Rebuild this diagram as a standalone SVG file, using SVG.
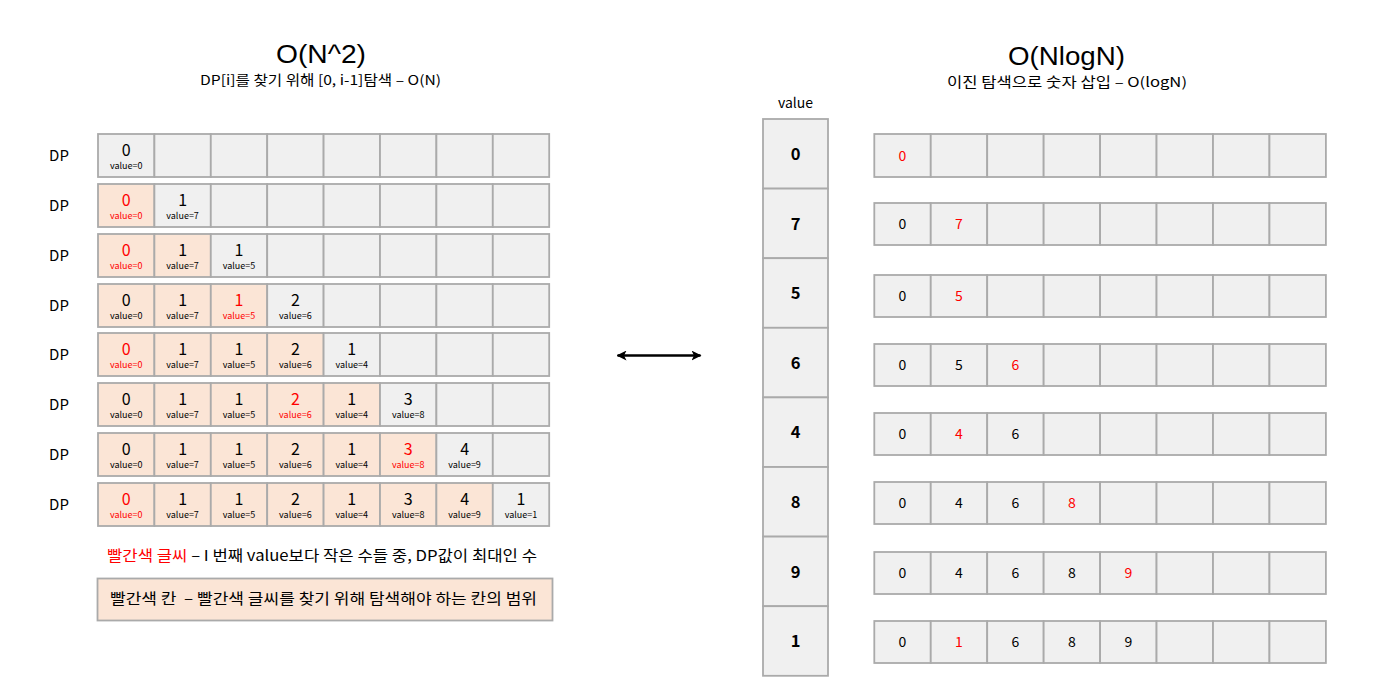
<svg xmlns="http://www.w3.org/2000/svg" width="1400" height="691" viewBox="0 0 1400 691">
<defs>
<style>
text{font-family:"Noto Sans CJK KR","Noto Sans",sans-serif;fill:#000;}
.c{fill:#f0f0f0;stroke:#aaaaaa;stroke-width:1.8;}
.p{fill:#fbe5d6;stroke:#aaaaaa;stroke-width:1.8;}
.big{font-size:16px;text-anchor:middle;}
.sm{font-size:9px;text-anchor:middle;}
.rn{font-size:14px;text-anchor:middle;}
.vb{font-size:16.5px;font-weight:bold;text-anchor:middle;}
.dp{font-size:15px;text-anchor:middle;}
.r{fill:#ff0000;}
.title{font-family:"Liberation Sans",Arial,sans-serif;font-size:26px;text-anchor:middle;}
.sub{font-size:13.5px;text-anchor:middle;}
</style>
<marker id="ah" viewBox="0 0 10 10" refX="9" refY="5" markerWidth="4" markerHeight="4" orient="auto-start-reverse" markerUnits="strokeWidth">
<path d="M0,0 L10,5 L0,10 L2.5,5 z" fill="#000"/>
</marker>
</defs>
<rect width="1400" height="691" fill="#fff"/>

<g id="titles">
<text class="title" x="321" y="63" textLength="90" lengthAdjust="spacingAndGlyphs">O(N^2)</text>
<text class="sub" x="320.5" y="84.5" textLength="241" lengthAdjust="spacingAndGlyphs">DP[i]를 찾기 위해 [0, i-1]탐색 – O(N)</text>
<text class="title" x="1066.5" y="65" textLength="117" lengthAdjust="spacingAndGlyphs">O(NlogN)</text>
<text class="sub" x="1067" y="86.5" textLength="240" lengthAdjust="spacingAndGlyphs">이진 탐색으로 숫자 삽입 – O(logN)</text>
</g>

<g id="left-row1">
<text class="dp" x="59" y="161">DP</text>
<rect class="c" x="98" y="134" width="56.4" height="43"/>
<rect class="c" x="154.4" y="134" width="56.4" height="43"/>
<rect class="c" x="210.8" y="134" width="56.4" height="43"/>
<rect class="c" x="267.2" y="134" width="56.4" height="43"/>
<rect class="c" x="323.6" y="134" width="56.4" height="43"/>
<rect class="c" x="380" y="134" width="56.4" height="43"/>
<rect class="c" x="436.4" y="134" width="56.4" height="43"/>
<rect class="c" x="492.8" y="134" width="56.4" height="43"/>
<text class="big" x="126.2" y="156">0</text><text class="sm" x="126.2" y="169">value=0</text>
</g>

<g id="left-row2">
<text class="dp" x="59" y="211">DP</text>
<rect class="p" x="98" y="184" width="56.4" height="43"/>
<rect class="c" x="154.4" y="184" width="56.4" height="43"/>
<rect class="c" x="210.8" y="184" width="56.4" height="43"/>
<rect class="c" x="267.2" y="184" width="56.4" height="43"/>
<rect class="c" x="323.6" y="184" width="56.4" height="43"/>
<rect class="c" x="380" y="184" width="56.4" height="43"/>
<rect class="c" x="436.4" y="184" width="56.4" height="43"/>
<rect class="c" x="492.8" y="184" width="56.4" height="43"/>
<text class="big r" x="126.2" y="206">0</text><text class="sm r" x="126.2" y="219">value=0</text>
<text class="big" x="182.6" y="206">1</text><text class="sm" x="182.6" y="219">value=7</text>
</g>

<g id="left-row3">
<text class="dp" x="59" y="261">DP</text>
<rect class="p" x="98" y="234" width="56.4" height="43"/>
<rect class="p" x="154.4" y="234" width="56.4" height="43"/>
<rect class="c" x="210.8" y="234" width="56.4" height="43"/>
<rect class="c" x="267.2" y="234" width="56.4" height="43"/>
<rect class="c" x="323.6" y="234" width="56.4" height="43"/>
<rect class="c" x="380" y="234" width="56.4" height="43"/>
<rect class="c" x="436.4" y="234" width="56.4" height="43"/>
<rect class="c" x="492.8" y="234" width="56.4" height="43"/>
<text class="big r" x="126.2" y="256">0</text><text class="sm r" x="126.2" y="269">value=0</text>
<text class="big" x="182.6" y="256">1</text><text class="sm" x="182.6" y="269">value=7</text>
<text class="big" x="239" y="256">1</text><text class="sm" x="239" y="269">value=5</text>
</g>

<g id="left-row4">
<text class="dp" x="59" y="311">DP</text>
<rect class="p" x="98" y="284" width="56.4" height="43"/>
<rect class="p" x="154.4" y="284" width="56.4" height="43"/>
<rect class="p" x="210.8" y="284" width="56.4" height="43"/>
<rect class="c" x="267.2" y="284" width="56.4" height="43"/>
<rect class="c" x="323.6" y="284" width="56.4" height="43"/>
<rect class="c" x="380" y="284" width="56.4" height="43"/>
<rect class="c" x="436.4" y="284" width="56.4" height="43"/>
<rect class="c" x="492.8" y="284" width="56.4" height="43"/>
<text class="big" x="126.2" y="306">0</text><text class="sm" x="126.2" y="319">value=0</text>
<text class="big" x="182.6" y="306">1</text><text class="sm" x="182.6" y="319">value=7</text>
<text class="big r" x="239" y="306">1</text><text class="sm r" x="239" y="319">value=5</text>
<text class="big" x="295.4" y="306">2</text><text class="sm" x="295.4" y="319">value=6</text>
</g>

<g id="left-row5">
<text class="dp" x="59" y="360">DP</text>
<rect class="p" x="98" y="333" width="56.4" height="43"/>
<rect class="p" x="154.4" y="333" width="56.4" height="43"/>
<rect class="p" x="210.8" y="333" width="56.4" height="43"/>
<rect class="p" x="267.2" y="333" width="56.4" height="43"/>
<rect class="c" x="323.6" y="333" width="56.4" height="43"/>
<rect class="c" x="380" y="333" width="56.4" height="43"/>
<rect class="c" x="436.4" y="333" width="56.4" height="43"/>
<rect class="c" x="492.8" y="333" width="56.4" height="43"/>
<text class="big r" x="126.2" y="355">0</text><text class="sm r" x="126.2" y="368">value=0</text>
<text class="big" x="182.6" y="355">1</text><text class="sm" x="182.6" y="368">value=7</text>
<text class="big" x="239" y="355">1</text><text class="sm" x="239" y="368">value=5</text>
<text class="big" x="295.4" y="355">2</text><text class="sm" x="295.4" y="368">value=6</text>
<text class="big" x="351.8" y="355">1</text><text class="sm" x="351.8" y="368">value=4</text>
</g>

<g id="left-row6">
<text class="dp" x="59" y="410">DP</text>
<rect class="p" x="98" y="383" width="56.4" height="43"/>
<rect class="p" x="154.4" y="383" width="56.4" height="43"/>
<rect class="p" x="210.8" y="383" width="56.4" height="43"/>
<rect class="p" x="267.2" y="383" width="56.4" height="43"/>
<rect class="p" x="323.6" y="383" width="56.4" height="43"/>
<rect class="c" x="380" y="383" width="56.4" height="43"/>
<rect class="c" x="436.4" y="383" width="56.4" height="43"/>
<rect class="c" x="492.8" y="383" width="56.4" height="43"/>
<text class="big" x="126.2" y="405">0</text><text class="sm" x="126.2" y="418">value=0</text>
<text class="big" x="182.6" y="405">1</text><text class="sm" x="182.6" y="418">value=7</text>
<text class="big" x="239" y="405">1</text><text class="sm" x="239" y="418">value=5</text>
<text class="big r" x="295.4" y="405">2</text><text class="sm r" x="295.4" y="418">value=6</text>
<text class="big" x="351.8" y="405">1</text><text class="sm" x="351.8" y="418">value=4</text>
<text class="big" x="408.2" y="405">3</text><text class="sm" x="408.2" y="418">value=8</text>
</g>

<g id="left-row7">
<text class="dp" x="59" y="460">DP</text>
<rect class="p" x="98" y="433" width="56.4" height="43"/>
<rect class="p" x="154.4" y="433" width="56.4" height="43"/>
<rect class="p" x="210.8" y="433" width="56.4" height="43"/>
<rect class="p" x="267.2" y="433" width="56.4" height="43"/>
<rect class="p" x="323.6" y="433" width="56.4" height="43"/>
<rect class="p" x="380" y="433" width="56.4" height="43"/>
<rect class="c" x="436.4" y="433" width="56.4" height="43"/>
<rect class="c" x="492.8" y="433" width="56.4" height="43"/>
<text class="big" x="126.2" y="455">0</text><text class="sm" x="126.2" y="468">value=0</text>
<text class="big" x="182.6" y="455">1</text><text class="sm" x="182.6" y="468">value=7</text>
<text class="big" x="239" y="455">1</text><text class="sm" x="239" y="468">value=5</text>
<text class="big" x="295.4" y="455">2</text><text class="sm" x="295.4" y="468">value=6</text>
<text class="big" x="351.8" y="455">1</text><text class="sm" x="351.8" y="468">value=4</text>
<text class="big r" x="408.2" y="455">3</text><text class="sm r" x="408.2" y="468">value=8</text>
<text class="big" x="464.6" y="455">4</text><text class="sm" x="464.6" y="468">value=9</text>
</g>

<g id="left-row8">
<text class="dp" x="59" y="510">DP</text>
<rect class="p" x="98" y="483" width="56.4" height="43"/>
<rect class="p" x="154.4" y="483" width="56.4" height="43"/>
<rect class="p" x="210.8" y="483" width="56.4" height="43"/>
<rect class="p" x="267.2" y="483" width="56.4" height="43"/>
<rect class="p" x="323.6" y="483" width="56.4" height="43"/>
<rect class="p" x="380" y="483" width="56.4" height="43"/>
<rect class="p" x="436.4" y="483" width="56.4" height="43"/>
<rect class="c" x="492.8" y="483" width="56.4" height="43"/>
<text class="big r" x="126.2" y="505">0</text><text class="sm r" x="126.2" y="518">value=0</text>
<text class="big" x="182.6" y="505">1</text><text class="sm" x="182.6" y="518">value=7</text>
<text class="big" x="239" y="505">1</text><text class="sm" x="239" y="518">value=5</text>
<text class="big" x="295.4" y="505">2</text><text class="sm" x="295.4" y="518">value=6</text>
<text class="big" x="351.8" y="505">1</text><text class="sm" x="351.8" y="518">value=4</text>
<text class="big" x="408.2" y="505">3</text><text class="sm" x="408.2" y="518">value=8</text>
<text class="big" x="464.6" y="505">4</text><text class="sm" x="464.6" y="518">value=9</text>
<text class="big" x="521" y="505">1</text><text class="sm" x="521" y="518">value=1</text>
</g>

<g id="legend">
<text x="107" y="561" style="font-size:15px" textLength="430" lengthAdjust="spacingAndGlyphs"><tspan class="r">빨간색 글씨</tspan> – I 번째 value보다 작은 수들 중, DP값이 최대인 수</text>
<rect class="p" x="97.5" y="578.5" width="455" height="42"/>
<text x="110" y="604" style="font-size:15px" textLength="427" lengthAdjust="spacingAndGlyphs" xml:space="preserve">빨간색 칸  – 빨간색 글씨를 찾기 위해 탐색해야 하는 칸의 범위</text>
</g>

<g id="connectors">
<line x1="617.5" y1="355.5" x2="700.5" y2="355.5" stroke="#000" stroke-width="2.5" marker-start="url(#ah)" marker-end="url(#ah)"/>
</g>

<g id="value-column">
<text x="795.5" y="108" style="font-size:14px;text-anchor:middle">value</text>
<rect class="c" x="763" y="119" width="65" height="69.6"/>
<rect class="c" x="763" y="188.6" width="65" height="69.6"/>
<rect class="c" x="763" y="258.2" width="65" height="69.6"/>
<rect class="c" x="763" y="327.8" width="65" height="69.6"/>
<rect class="c" x="763" y="397.4" width="65" height="69.6"/>
<rect class="c" x="763" y="467" width="65" height="69.6"/>
<rect class="c" x="763" y="536.6" width="65" height="69.6"/>
<rect class="c" x="763" y="606.2" width="65" height="69.6"/>
<text class="vb" x="795.5" y="160">0</text>
<text class="vb" x="795.5" y="229.5">7</text>
<text class="vb" x="795.5" y="299">5</text>
<text class="vb" x="795.5" y="368.5">6</text>
<text class="vb" x="795.5" y="438">4</text>
<text class="vb" x="795.5" y="508">8</text>
<text class="vb" x="795.5" y="577.5">9</text>
<text class="vb" x="795.5" y="647">1</text>
</g>

<g id="right-row1">
<rect class="c" x="874.3" y="134" width="56.45" height="43"/>
<rect class="c" x="930.75" y="134" width="56.45" height="43"/>
<rect class="c" x="987.2" y="134" width="56.45" height="43"/>
<rect class="c" x="1043.65" y="134" width="56.45" height="43"/>
<rect class="c" x="1100.1" y="134" width="56.45" height="43"/>
<rect class="c" x="1156.55" y="134" width="56.45" height="43"/>
<rect class="c" x="1213" y="134" width="56.45" height="43"/>
<rect class="c" x="1269.45" y="134" width="56.45" height="43"/>
<text class="rn r" x="902.5" y="160.5">0</text>
</g>

<g id="right-row2">
<rect class="c" x="874.3" y="203" width="56.45" height="42"/>
<rect class="c" x="930.75" y="203" width="56.45" height="42"/>
<rect class="c" x="987.2" y="203" width="56.45" height="42"/>
<rect class="c" x="1043.65" y="203" width="56.45" height="42"/>
<rect class="c" x="1100.1" y="203" width="56.45" height="42"/>
<rect class="c" x="1156.55" y="203" width="56.45" height="42"/>
<rect class="c" x="1213" y="203" width="56.45" height="42"/>
<rect class="c" x="1269.45" y="203" width="56.45" height="42"/>
<text class="rn" x="902.5" y="229">0</text>
<text class="rn r" x="959" y="229">7</text>
</g>

<g id="right-row3">
<rect class="c" x="874.3" y="275" width="56.45" height="42"/>
<rect class="c" x="930.75" y="275" width="56.45" height="42"/>
<rect class="c" x="987.2" y="275" width="56.45" height="42"/>
<rect class="c" x="1043.65" y="275" width="56.45" height="42"/>
<rect class="c" x="1100.1" y="275" width="56.45" height="42"/>
<rect class="c" x="1156.55" y="275" width="56.45" height="42"/>
<rect class="c" x="1213" y="275" width="56.45" height="42"/>
<rect class="c" x="1269.45" y="275" width="56.45" height="42"/>
<text class="rn" x="902.5" y="301">0</text>
<text class="rn r" x="959" y="301">5</text>
</g>

<g id="right-row4">
<rect class="c" x="874.3" y="344" width="56.45" height="42"/>
<rect class="c" x="930.75" y="344" width="56.45" height="42"/>
<rect class="c" x="987.2" y="344" width="56.45" height="42"/>
<rect class="c" x="1043.65" y="344" width="56.45" height="42"/>
<rect class="c" x="1100.1" y="344" width="56.45" height="42"/>
<rect class="c" x="1156.55" y="344" width="56.45" height="42"/>
<rect class="c" x="1213" y="344" width="56.45" height="42"/>
<rect class="c" x="1269.45" y="344" width="56.45" height="42"/>
<text class="rn" x="902.5" y="370">0</text>
<text class="rn" x="959" y="370">5</text>
<text class="rn r" x="1015.4" y="370">6</text>
</g>

<g id="right-row5">
<rect class="c" x="874.3" y="413" width="56.45" height="42"/>
<rect class="c" x="930.75" y="413" width="56.45" height="42"/>
<rect class="c" x="987.2" y="413" width="56.45" height="42"/>
<rect class="c" x="1043.65" y="413" width="56.45" height="42"/>
<rect class="c" x="1100.1" y="413" width="56.45" height="42"/>
<rect class="c" x="1156.55" y="413" width="56.45" height="42"/>
<rect class="c" x="1213" y="413" width="56.45" height="42"/>
<rect class="c" x="1269.45" y="413" width="56.45" height="42"/>
<text class="rn" x="902.5" y="439">0</text>
<text class="rn r" x="959" y="439">4</text>
<text class="rn" x="1015.4" y="439">6</text>
</g>

<g id="right-row6">
<rect class="c" x="874.3" y="482" width="56.45" height="42"/>
<rect class="c" x="930.75" y="482" width="56.45" height="42"/>
<rect class="c" x="987.2" y="482" width="56.45" height="42"/>
<rect class="c" x="1043.65" y="482" width="56.45" height="42"/>
<rect class="c" x="1100.1" y="482" width="56.45" height="42"/>
<rect class="c" x="1156.55" y="482" width="56.45" height="42"/>
<rect class="c" x="1213" y="482" width="56.45" height="42"/>
<rect class="c" x="1269.45" y="482" width="56.45" height="42"/>
<text class="rn" x="902.5" y="508">0</text>
<text class="rn" x="959" y="508">4</text>
<text class="rn" x="1015.4" y="508">6</text>
<text class="rn r" x="1071.9" y="508">8</text>
</g>

<g id="right-row7">
<rect class="c" x="874.3" y="552" width="56.45" height="42"/>
<rect class="c" x="930.75" y="552" width="56.45" height="42"/>
<rect class="c" x="987.2" y="552" width="56.45" height="42"/>
<rect class="c" x="1043.65" y="552" width="56.45" height="42"/>
<rect class="c" x="1100.1" y="552" width="56.45" height="42"/>
<rect class="c" x="1156.55" y="552" width="56.45" height="42"/>
<rect class="c" x="1213" y="552" width="56.45" height="42"/>
<rect class="c" x="1269.45" y="552" width="56.45" height="42"/>
<text class="rn" x="902.5" y="578">0</text>
<text class="rn" x="959" y="578">4</text>
<text class="rn" x="1015.4" y="578">6</text>
<text class="rn" x="1071.9" y="578">8</text>
<text class="rn r" x="1128.3" y="578">9</text>
</g>

<g id="right-row8">
<rect class="c" x="874.3" y="621" width="56.45" height="42"/>
<rect class="c" x="930.75" y="621" width="56.45" height="42"/>
<rect class="c" x="987.2" y="621" width="56.45" height="42"/>
<rect class="c" x="1043.65" y="621" width="56.45" height="42"/>
<rect class="c" x="1100.1" y="621" width="56.45" height="42"/>
<rect class="c" x="1156.55" y="621" width="56.45" height="42"/>
<rect class="c" x="1213" y="621" width="56.45" height="42"/>
<rect class="c" x="1269.45" y="621" width="56.45" height="42"/>
<text class="rn" x="902.5" y="647">0</text>
<text class="rn r" x="959" y="647">1</text>
<text class="rn" x="1015.4" y="647">6</text>
<text class="rn" x="1071.9" y="647">8</text>
<text class="rn" x="1128.3" y="647">9</text>
</g>
</svg>
